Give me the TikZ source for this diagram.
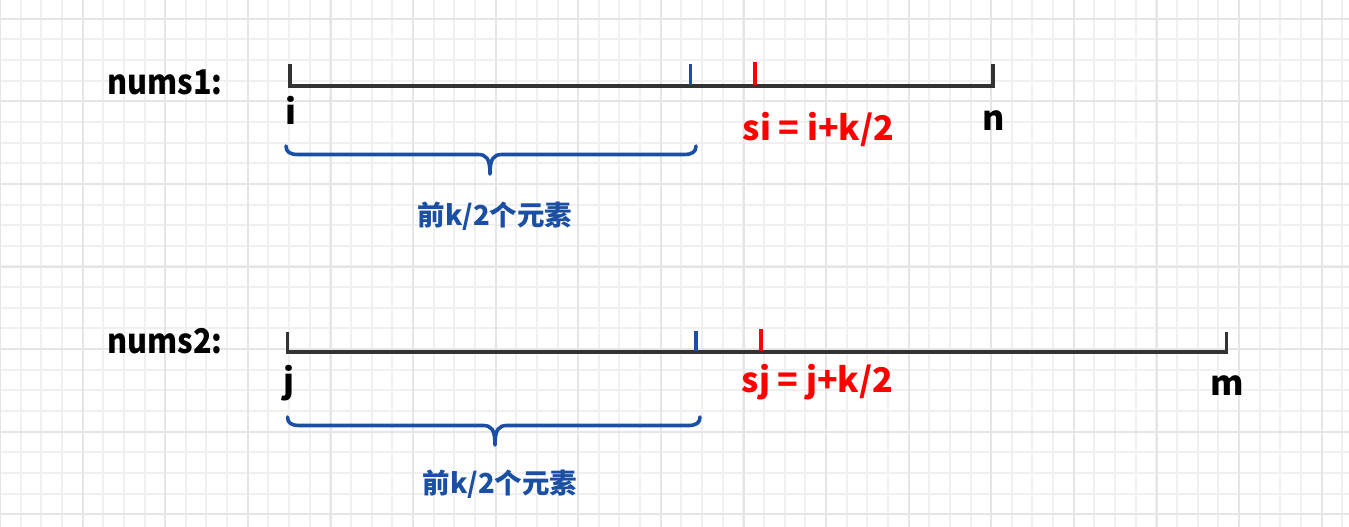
\documentclass[tikz,border=0pt]{standalone}
\usepackage{fontspec}
\setmainfont{Noto Sans CJK SC}
\definecolor{gridminor}{HTML}{F0F0F0}
\definecolor{gridmajor}{HTML}{E5E5E5}
\definecolor{axisgray}{HTML}{333333}
\definecolor{braceblue}{HTML}{1A4FA3}
\definecolor{markred}{HTML}{FF0000}
\begin{document}
\begin{tikzpicture}[x=1pt,y=-1pt,
  axis/.style={draw=axisgray,line width=3.8pt,line cap=butt,line join=miter},
  bluetick/.style={draw=braceblue,line width=3.4pt},
  redtick/.style={draw=markred,line width=3.4pt},
  bracepath/.style={draw=braceblue,line width=3.6pt,line cap=round,line join=round},
  lbl/.style={font=\fontsize{34}{34}\selectfont\bfseries,text=black,inner sep=0pt},
  redlbl/.style={font=\fontsize{34}{34}\selectfont\bfseries,text=markred,inner sep=0pt},
  bluelbl/.style={font=\fontsize{27.5}{27.5}\selectfont\bfseries,text=braceblue,inner sep=0pt}]
\useasboundingbox (0,0) rectangle (1349,527);
\fill[white] (0,0) rectangle (1349,527);
% grid
\foreach \k in {0,...,65} {
  \draw[gridminor,line width=1.5pt] ({round(20.65*\k)},0) -- ({round(20.65*\k)},527);
}
\foreach \k in {0,...,26} {
  \draw[gridminor,line width=1.5pt] (0,{round(-1.95+20.65*\k)}) -- (1349,{round(-1.95+20.65*\k)});
}
\foreach \k in {0,...,16} {
  \draw[gridmajor,line width=1.8pt] ({round(0.1+82.6*\k)},0) -- ({round(0.1+82.6*\k)},527);
}
\foreach \k in {0,...,6} {
  \draw[gridmajor,line width=1.8pt] (0,{round(18.7+82.6*\k)}) -- (1349,{round(18.7+82.6*\k)});
}
% nums1 axis
\coordinate (a1l) at (290,86);
\coordinate (a1r) at (993.3,86);
\draw[axis] (290,64) -- (a1l) -- (a1r) -- (993.3,64);
\draw[bluetick] (690.7,64) -- (690.7,85);
\draw[redtick] (755,62) -- (755,85);
% nums2 axis
\coordinate (a2l) at (287.5,352);
\coordinate (a2r) at (1226.5,352);
\draw[axis] (287.5,332) -- (a2l) -- (a2r) -- (1226.5,332);
\draw[bluetick] (696,331) -- (696,351);
\draw[redtick] (761,329) -- (761,351);
% braces
\draw[bracepath] (286,146) .. controls (286,152) and (290,154.5) .. (298,154.5)
  -- (478,154.5) .. controls (486,154.5) and (490,158) .. (490,174)
  .. controls (490,158) and (494,154.5) .. (502,154.5)
  -- (684,154.5) .. controls (692,154.5) and (696,152) .. (696,146);
\draw[bracepath] (287.5,417) .. controls (287.5,423) and (291.5,425.5) .. (299.5,425.5)
  -- (483,425.5) .. controls (491,425.5) and (495,429) .. (495,445)
  .. controls (495,429) and (499,425.5) .. (507,425.5)
  -- (688,425.5) .. controls (696,425.5) and (700,423) .. (700,417);
% labels
\node[lbl,anchor=base west] (n1) at (107,94) {\scalebox{0.9}[1]{nums1:}};
\node[lbl,anchor=base west] (n2) at (107,353) {\scalebox{0.9}[1]{nums2:}};
\node[lbl,anchor=base] (li) at (290.5,124) {i};
\node[lbl,anchor=base] (ln) at (994,130) {n};
\node[lbl,anchor=base] (lj) at (289,393) {j};
\node[lbl,anchor=base] (lm) at (1227,395) {m};
\node[redlbl,anchor=base] (si) at (818.5,140) {si = i+k/2};
\node[redlbl,anchor=base] (sj) at (817.5,392) {sj = j+k/2};
\node[bluelbl,anchor=base] (b1) at (495,225) {前k/2个元素};
\node[bluelbl,anchor=base] (b2) at (500,493) {前k/2个元素};
\end{tikzpicture}
\end{document}
